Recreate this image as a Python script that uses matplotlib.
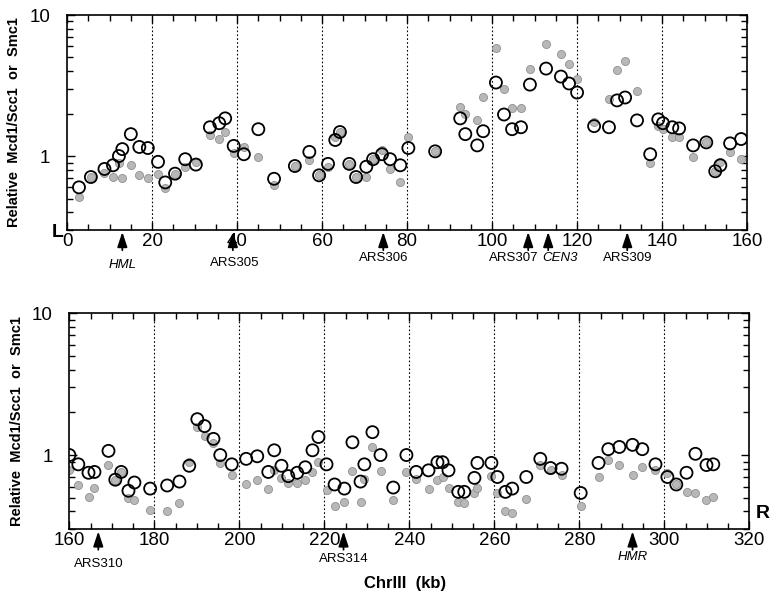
import numpy as np
import matplotlib
matplotlib.use("Agg")
import matplotlib.pyplot as plt
from matplotlib.ticker import LogLocator, NullFormatter, MultipleLocator

plt.rcParams['font.family'] = ['Liberation Sans', 'DejaVu Sans']

# ---- left arm (0-160 kb) ----
top_open_x = [2.8, 5.6, 8.8, 10.8, 12.2, 13.0, 15.0, 17.0, 19.0, 21.4, 23.1, 25.4, 27.8, 30.3,
              33.6, 35.8, 37.2, 39.2, 41.6, 45.0, 48.7, 53.6, 57.0, 59.3, 61.4, 63.1, 64.2,
              66.4, 68.0, 70.4, 72.0, 74.1, 76.0, 78.4, 80.3, 86.6, 92.5, 93.7, 96.5, 97.9,
              100.9, 102.8, 104.7, 106.8, 108.9, 112.7, 116.2, 118.1, 120.0, 124.0, 127.5,
              129.4, 131.3, 134.1, 137.2, 139.1, 140.2, 142.4, 144.0, 147.3, 150.4, 152.5,
              153.7, 156.0, 158.6]
top_open_y = [0.60, 0.71, 0.81, 0.86, 1.00, 1.12, 1.43, 1.16, 1.14, 0.91, 0.65, 0.75, 0.95, 0.87,
              1.60, 1.71, 1.85, 1.18, 1.03, 1.55, 0.69, 0.85, 1.07, 0.73, 0.88, 1.30, 1.48,
              0.88, 0.71, 0.84, 0.95, 1.03, 0.95, 0.86, 1.14, 1.08, 1.85, 1.43, 1.19, 1.50,
              3.32, 1.97, 1.55, 1.60, 3.21, 4.17, 3.66, 3.27, 2.82, 1.63, 1.60,
              2.48, 2.60, 1.79, 1.03, 1.82, 1.71, 1.60, 1.57, 1.19, 1.25, 0.78,
              0.86, 1.23, 1.32]
top_grey_x = top_open_x
top_grey_y = [0.51, 0.71, 0.76, 0.71, 0.89, 0.70, 0.86, 0.73, 0.70, 0.75, 0.59, 0.75, 0.84, 0.91,
              1.41, 1.32, 1.48, 1.05, 1.16, 0.98, 0.62, 0.85, 0.94, 0.73, 0.83, 1.36, 1.48,
              0.88, 0.71, 0.71, 0.95, 1.10, 0.81, 0.66, 1.36, 1.08, 2.21, 2.00, 1.79, 2.64,
              5.85, 3.01, 2.18, 2.20, 4.17, 6.25, 5.30, 4.50, 3.54, 1.73, 2.52,
              4.10, 4.74, 2.87, 0.89, 1.63, 1.55, 1.36, 1.36, 0.98, 1.25, 0.78,
              0.91, 1.07, 0.95]

# ---- right arm (160-320 kb) ----
bot_open_x = [160.0, 162.1, 164.5, 165.9, 169.2, 170.8, 172.2, 173.9, 175.3, 179.0, 183.0, 185.9,
              188.2, 190.1, 191.8, 193.9, 195.5, 198.2, 201.6, 204.2, 206.8, 208.2, 209.9, 211.5,
              213.6, 215.5, 217.2, 218.6, 220.5, 222.4, 224.7, 226.6, 228.5, 229.4, 231.3, 233.2,
              236.2, 239.3, 241.6, 244.5, 246.6, 247.8, 249.2, 251.5, 252.9, 255.3, 256.0, 259.3,
              260.7, 262.6, 264.2, 267.5, 270.8, 273.2, 275.8, 280.3, 284.5, 286.8, 289.4, 292.5,
              294.8, 297.9, 300.7, 302.8, 305.2, 307.3, 309.9, 311.5]
bot_open_y = [1.00, 0.86, 0.75, 0.76, 1.07, 0.67, 0.76, 0.56, 0.64, 0.58, 0.61, 0.65,
              0.84, 1.79, 1.60, 1.30, 1.00, 0.86, 0.94, 0.98, 0.76, 1.08, 0.84, 0.71,
              0.75, 0.82, 1.08, 1.34, 0.86, 0.62, 0.58, 1.23, 0.65, 0.86, 1.45, 1.00,
              0.59, 1.00, 0.76, 0.78, 0.89, 0.89, 0.78, 0.55, 0.55, 0.69, 0.88, 0.88,
              0.70, 0.55, 0.58, 0.70, 0.94, 0.81, 0.80, 0.54, 0.88, 1.10, 1.14, 1.18,
              1.10, 0.86, 0.70, 0.62, 0.75, 1.02, 0.85, 0.86]
bot_grey_x = bot_open_x
bot_grey_y = [0.78, 0.61, 0.51, 0.59, 0.85, 0.67, 0.76, 0.50, 0.48, 0.41, 0.40, 0.46,
              0.89, 1.57, 1.36, 1.21, 0.88, 0.72, 0.62, 0.67, 0.58, 0.78, 0.69, 0.64,
              0.64, 0.67, 0.76, 0.89, 0.57, 0.44, 0.47, 0.77, 0.47, 0.68, 1.14, 0.77,
              0.48, 0.76, 0.68, 0.58, 0.67, 0.70, 0.59, 0.47, 0.46, 0.54, 0.59, 0.71,
              0.54, 0.40, 0.39, 0.49, 0.85, 0.78, 0.72, 0.44, 0.70, 0.92, 0.85, 0.72,
              0.82, 0.78, 0.75, 0.62, 0.55, 0.54, 0.48, 0.51]

# landmarks (arrow position, label centre)
top_marks = ["HML", "ARS305", "ARS306", "ARS307", "CEN3", "ARS309"]
top_marks_x = [13.0, 39.0, 74.4, 108.5, 113.2, 131.8]
top_label_x = [13.0, 39.5, 74.4, 105.2, 116.0, 131.8]
top_label_y = [-0.165, -0.155, -0.13, -0.13, -0.13, -0.13]
bot_marks = ["ARS310", "ARS314", "HMR"]
bot_marks_x = [166.8, 224.5, 292.5]
bot_label_x = [166.8, 224.5, 292.5]
bot_label_y = [-0.162, -0.14, -0.13]
italic_marks = ["HML", "CEN3", "HMR"]

fig = plt.figure(figsize=(7.71, 6.0), dpi=100)
ax1 = fig.add_axes([0.087, 0.617, 0.882, 0.358])
ax2 = fig.add_axes([0.09, 0.118, 0.882, 0.360])


def style_panel(ax, x0, x1, ox, oy, gx, gy, marks, marks_x, lab_x, lab_y):
    ax.set_yscale('log')
    ax.set_xlim(x0, x1)
    ax.set_ylim(0.3, 10)
    for v in range(x0 + 20, x1, 20):
        ax.axvline(v, color='black', lw=0.8, ls=(0, (1.5, 2)), zorder=1)
    ax.scatter(gx, gy, s=34, facecolor='#b8b8b8', edgecolor='#909090', lw=0.6, zorder=2)
    ax.scatter(ox, oy, s=75, facecolor='none', edgecolor='black', lw=1.3, zorder=3)
    ax.set_xticks(range(x0, x1 + 1, 20))
    ax.xaxis.set_minor_locator(MultipleLocator(5))
    ax.set_yticks([1, 10])
    ax.set_yticklabels(['1', '10'])
    ax.yaxis.set_minor_locator(LogLocator(base=10, subs=np.arange(2, 10)))
    ax.yaxis.set_minor_formatter(NullFormatter())
    ax.tick_params(which='both', direction='in', top=True, right=True, width=1.0)
    ax.tick_params(which='major', length=6)
    ax.tick_params(which='minor', length=4)
    ax.tick_params(axis='x', labelsize=13.5, pad=2)
    ax.tick_params(axis='y', labelsize=13.5, pad=12)
    for sp in ax.spines.values():
        sp.set_linewidth(1.2)
    ax.set_ylabel('Relative  Mcd1/Scc1  or  Smc1', fontsize=10.5, fontweight='bold', labelpad=6)
    for name, mx, lx, ly in zip(marks, marks_x, lab_x, lab_y):
        ax.annotate('', xy=(mx, -0.01), xycoords=('data', 'axes fraction'),
                    xytext=(mx, -0.095), textcoords=('data', 'axes fraction'),
                    arrowprops=dict(arrowstyle='-|>,head_length=0.9,head_width=0.3',
                                    color='black', lw=1.3, shrinkA=0, shrinkB=0))
        ax.text(lx, ly, name, transform=ax.get_xaxis_transform(),
                ha='center', va='center', fontsize=9.5,
                style='italic' if name in italic_marks else 'normal')


style_panel(ax1, 0, 160, top_open_x, top_open_y, top_grey_x, top_grey_y,
            top_marks, top_marks_x, top_label_x, top_label_y)
style_panel(ax2, 160, 320, bot_open_x, bot_open_y, bot_grey_x, bot_grey_y,
            bot_marks, bot_marks_x, bot_label_x, bot_label_y)

fig.text(0.075, 0.612, 'L', fontsize=14, fontweight='bold', ha='center', va='center')
fig.text(0.999, 0.145, 'R', fontsize=14, fontweight='bold', ha='right', va='center')
fig.text(0.525, 0.028, 'ChrIII  (kb)', fontsize=12, fontweight='bold', ha='center', va='center')

plt.savefig('out.png', dpi=100)
